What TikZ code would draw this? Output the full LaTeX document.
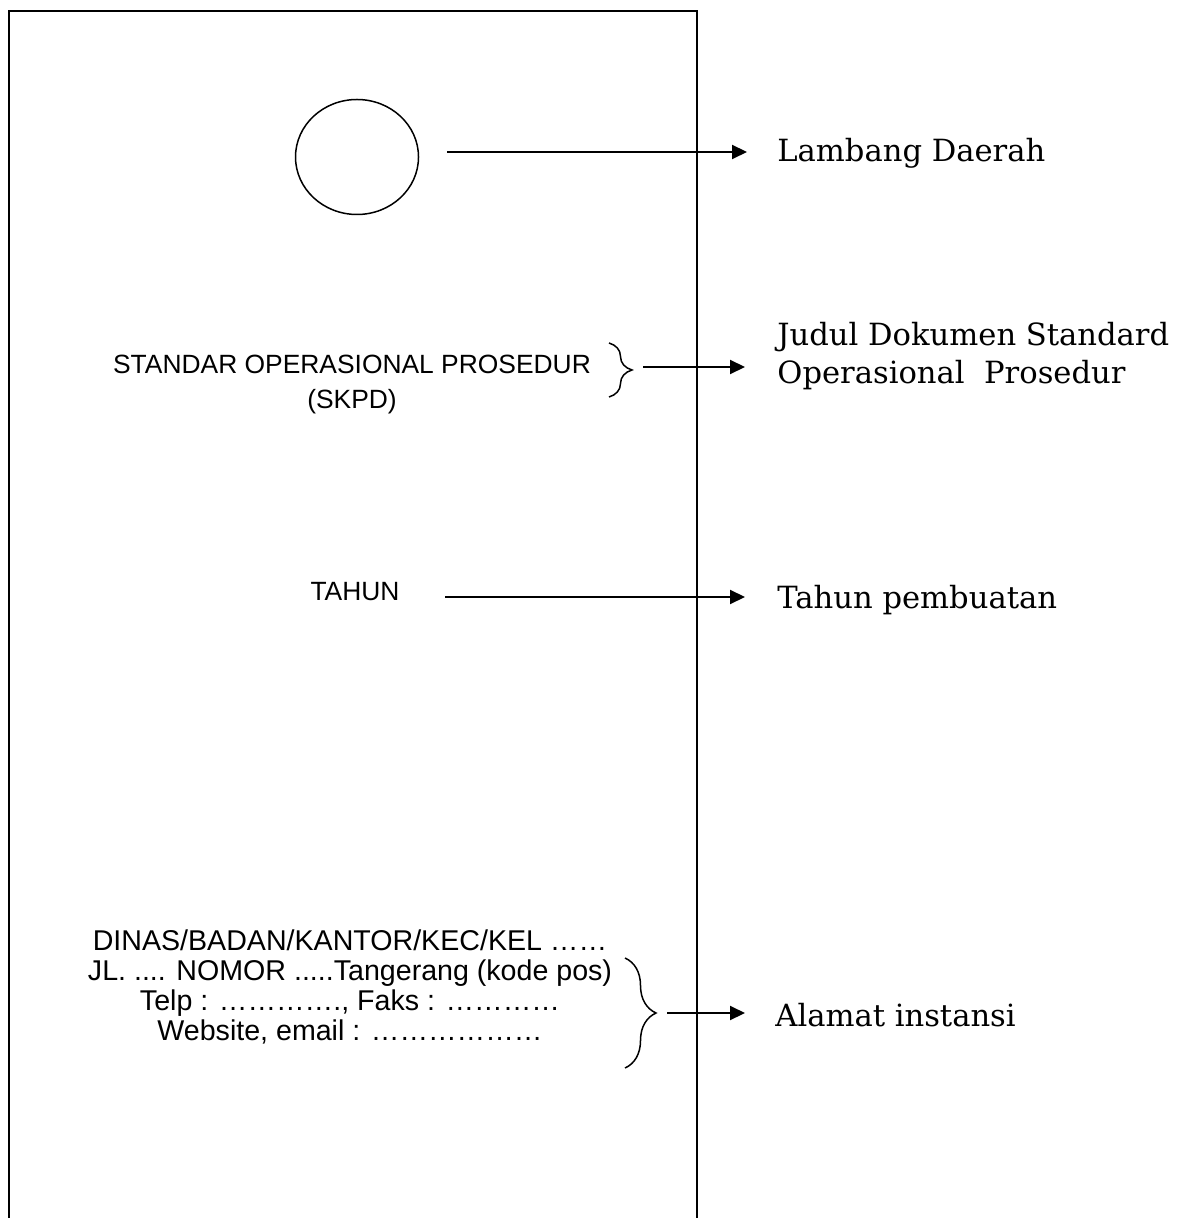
\documentclass[tikz,border=0pt]{standalone}
\usepackage{fontspec}
\setmainfont{DejaVu Serif}
\newfontfamily\arialfont{Liberation Sans}
\usetikzlibrary{arrows.meta,decorations.pathreplacing,shapes.geometric}

\tikzset{
  isi/.style={font=\arialfont\fontsize{13.2}{15}\selectfont, align=center, inner sep=0pt},
  ket/.style={font=\fontsize{15.3}{19}\selectfont, align=left, anchor=west, inner sep=0pt},
  panah/.style={line width=1pt, -{Triangle[length=7.5pt,width=7pt]}},
  kurung/.style={line width=0.75pt, decorate, decoration={brace,amplitude=#1}},
}

\begin{document}
\begin{tikzpicture}[x=0.5pt,y=-0.5pt]
    \useasboundingbox (0,0) rectangle (1194,1218);
    % halaman sampul
    \draw[line width=1pt] (9,1218) -- (9,11) -- (697,11) -- (697,1218);
    % isi sampul
    \node[draw, ellipse, line width=0.75pt, minimum width=61.5pt, minimum height=57.5pt, inner sep=0pt] (logo) at (357,157) {};
    \node[isi] (judul) at (352,385) {STANDAR OPERASIONAL PROSEDUR\\[2.5pt](SKPD)};
    \node[isi] (tahun) at (355,592) {TAHUN};
    \node[isi, font=\arialfont\fontsize{14.3}{15}\selectfont] (alamat) at (350,987) {DINAS/BADAN/KANTOR/KEC/KEL ……\\JL. .... NOMOR .....Tangerang (kode pos)\\Telp : …………., Faks : …………\\Website, email : ………………};
    % keterangan
    \node[ket] (lblLogo) at (777,153) {Lambang Daerah};
    \node[ket] (lblJudul) at (777,356) {Judul Dokumen Standard\\Operasional\ \ Prosedur};
    \node[ket] (lblTahun) at (777,600) {Tahun pembuatan};
    \node[ket] (lblAlamat) at (775,1015) {Alamat instansi};
    % kurung kurawal
    \draw[kurung=11.5pt] (609,343) -- (609,397);
    \coordinate (kJudul) at (632,367);
    \draw[kurung=15.5pt] (625,958) -- (625,1068);
    \coordinate (kAlamat) at (656,1013);
    \coordinate (tTahun) at (445,597);
    % panah
    \draw[panah, shorten <=14pt] ([yshift=2.5pt]logo.east) -- ([yshift=2.5pt]logo.east -| lblLogo.west) [shorten >=15pt];
    \draw[panah, shorten <=5.5pt, shorten >=16pt] (kJudul) -- (kJudul -| lblJudul.west);
    \draw[panah, shorten >=16pt] (tTahun) -- (tTahun -| lblTahun.west);
    \draw[panah, shorten <=5.5pt, shorten >=15pt] (kAlamat) -- (kAlamat -| lblAlamat.west);
\end{tikzpicture}
\end{document}
